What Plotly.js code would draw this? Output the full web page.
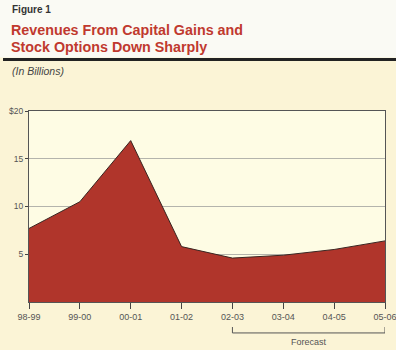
<!DOCTYPE html>
<html><head><meta charset="utf-8">
<script src="https://cdn.plot.ly/plotly-3.0.1.min.js"></script>
<style>html,body{margin:0;padding:0;background:#FBF4D6;}#chart{width:396px;height:350px;}</style>
</head><body><div id="chart"></div>
<script>
const years = ['98-99','99-00','00-01','01-02','02-03','03-04','04-05','05-06'];
const revenues = [7.7, 10.5, 16.9, 5.8, 4.6, 4.9, 5.5, 6.4];
const yTickVals = [5, 10, 15, 20];
const yTickText = ['5', '10', '15', '$20'];

const F = 'Liberation Sans, Arial, sans-serif';
const trace = {
  x: years, y: revenues, type: 'scatter', mode: 'lines', fill: 'tozeroy',
  fillcolor: '#B0352B', line: {color: '#3a2622', width: 1}, hoverinfo: 'skip'
};
const layout = {
  width: 396, height: 350,
  margin: {l: 29, r: 11, t: 111, b: 48},
  paper_bgcolor: '#FBF4D6', plot_bgcolor: '#FEFCE4',
  showlegend: false,
  xaxis: {type: 'category', range: [0, 7], showgrid: false, zeroline: false,
    showline: true, mirror: true, linecolor: '#555', linewidth: 1,
    ticks: 'outside', ticklen: 6, tickcolor: '#444',
    tickfont: {family: F, size: 9, color: '#555'}, fixedrange: true},
  yaxis: {range: [0, 20], tickvals: yTickVals, ticktext: yTickText,
    showgrid: true, gridcolor: '#b4b4ac', gridwidth: 1, zeroline: false,
    showline: true, mirror: true, linecolor: '#555', linewidth: 1,
    ticks: 'outside', ticklen: 3, tickcolor: '#444',
    tickfont: {family: F, size: 8.5, color: '#555'}, fixedrange: true},
  shapes: [
    {type: 'rect', xref: 'paper', yref: 'paper', x0: -0.09, x1: 1.04, y0: 1.28, y1: 1.6,
      fillcolor: '#FAFAF4', line: {width: 0}, layer: 'below'},
    {type: 'line', xref: 'paper', yref: 'paper', x0: -0.073, x1: 1.04, y0: 1.27, y1: 1.27,
      line: {color: '#222', width: 3}},
    {type: 'path', xref: 'x', yref: 'paper',
      path: 'M 4,-0.131 L 4,-0.162 L 7,-0.162 L 7,-0.131',
      line: {color: '#555', width: 1}}
  ],
  annotations: [
    {text: '<b>Figure 1</b>', xref: 'paper', yref: 'paper', x: -0.052, y: 1.529,
      xanchor: 'left', yanchor: 'middle', showarrow: false, font: {family: F, size: 10, color: '#333'}},
    {text: '<b>Revenues From Capital Gains and</b>', xref: 'paper', yref: 'paper', x: -0.056, y: 1.424,
      xanchor: 'left', yanchor: 'middle', showarrow: false, font: {family: F, size: 14.3, color: '#C0392E'}},
    {text: '<b>Stock Options Down Sharply</b>', xref: 'paper', yref: 'paper', x: -0.056, y: 1.335,
      xanchor: 'left', yanchor: 'middle', showarrow: false, font: {family: F, size: 14.3, color: '#C0392E'}},
    {text: '<i>(In Billions)</i>', xref: 'paper', yref: 'paper', x: -0.054, y: 1.209,
      xanchor: 'left', yanchor: 'middle', showarrow: false, font: {family: F, size: 10.5, color: '#444'}},
    {text: 'Forecast', xref: 'x', yref: 'paper', x: 5.5, y: -0.209,
      xanchor: 'center', yanchor: 'middle', showarrow: false, font: {family: F, size: 9, color: '#555'}}
  ]
};
Plotly.newPlot('chart', [trace], layout, {staticPlot: true, displayModeBar: false});
</script></body></html>
